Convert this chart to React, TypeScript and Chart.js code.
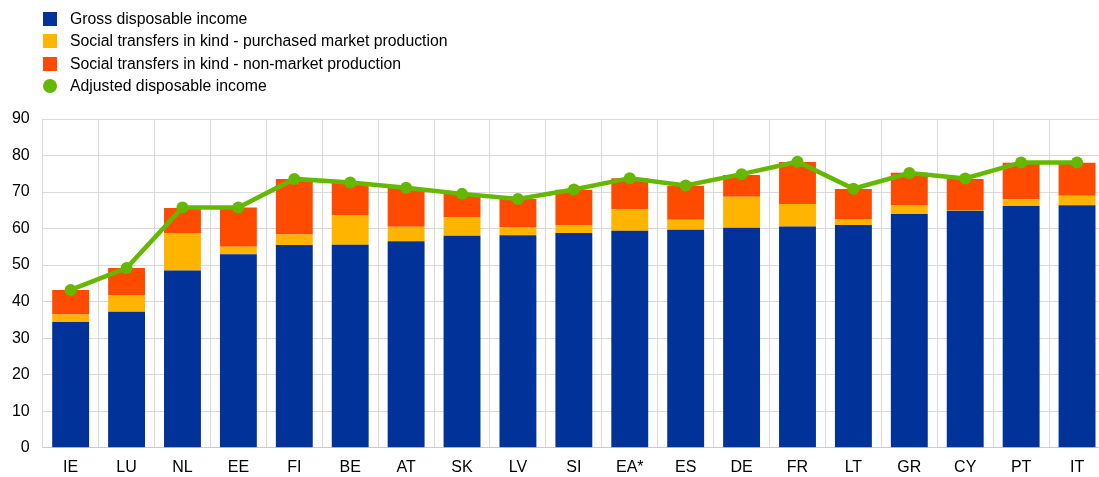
import React, { useEffect, useRef } from "react";
import { Chart, registerables } from "chart.js";

Chart.register(...registerables);

const categories = ["IE", "LU", "NL", "EE", "FI", "BE", "AT", "SK", "LV", "SI", "EA*", "ES", "DE", "FR", "LT", "GR", "CY", "PT", "IT"];
const grossDisposable = [34.4, 37.2, 48.5, 53.0, 55.5, 55.6, 56.5, 58.0, 58.2, 58.8, 59.4, 59.7, 60.2, 60.6, 61.0, 64.0, 64.9, 66.2, 66.4];
const purchasedMarket = [2.1, 4.6, 10.3, 2.0, 2.9, 8.1, 4.0, 5.1, 2.2, 2.1, 5.9, 2.7, 8.5, 6.1, 1.6, 2.3, 0.2, 1.8, 2.6];
const nonMarket = [6.7, 7.4, 6.8, 10.8, 15.2, 8.8, 10.6, 6.4, 7.7, 9.7, 8.5, 9.3, 6.0, 11.5, 8.2, 9.0, 8.5, 10.0, 9.0];
const adjustedDisposable = [43.2, 49.2, 65.8, 65.8, 73.6, 72.6, 71.2, 69.5, 68.1, 70.7, 73.8, 71.8, 74.9, 78.3, 70.9, 75.2, 73.7, 78.1, 78.1];
const yTicks = [0, 10, 20, 30, 40, 50, 60, 70, 80, 90];

const seriesNames = [
  "Gross disposable income",
  "Social transfers in kind - purchased market production",
  "Social transfers in kind - non-market production",
  "Adjusted disposable income",
];
const seriesColors = ["#003299", "#FFB400", "#FF4B00", "#65B800"];

const FONT = "'Liberation Sans', Arial, Helvetica, sans-serif";

export default function App() {
  const ref = useRef<HTMLCanvasElement>(null);
  useEffect(() => {
    if (!ref.current) return;
    const chart = new Chart(ref.current, {
      type: "bar",
      data: {
        labels: categories,
        datasets: [
          {
            type: "line",
            label: seriesNames[3],
            data: adjustedDisposable,
            borderColor: seriesColors[3],
            backgroundColor: seriesColors[3],
            borderWidth: 4.5,
            pointRadius: 6,
            pointBackgroundColor: seriesColors[3],
            pointBorderWidth: 0,
            stack: "line",
            order: 0,
            tension: 0,
          } as any,
          { label: seriesNames[0], data: grossDisposable, backgroundColor: seriesColors[0], stack: "a", order: 1 },
          { label: seriesNames[1], data: purchasedMarket, backgroundColor: seriesColors[1], stack: "a", order: 1 },
          { label: seriesNames[2], data: nonMarket, backgroundColor: seriesColors[2], stack: "a", order: 1 },
        ],
      },
      options: {
        responsive: false,
        animation: false,
        layout: { padding: { top: 119, left: 0, right: 15, bottom: 0 } },
        datasets: { bar: { barPercentage: 0.66, categoryPercentage: 1 } },
        plugins: { legend: { display: false }, tooltip: { enabled: false } },
        scales: {
          x: {
            stacked: true,
            grid: { color: "#d9d9d9", drawTicks: false, offset: true },
            border: { color: "#cccccc" },
            ticks: { padding: 10, color: "#000", font: { family: FONT, size: 16 } },
            afterFit: (s: any) => {
              s.height = 29.3;
            },
          },
          y: {
            stacked: true,
            min: 0,
            max: 90,
            afterBuildTicks: (axis: any) => {
              axis.ticks = yTicks.map((v) => ({ value: v }));
            },
            grid: { color: "#d9d9d9", drawTicks: false },
            border: { color: "#d9d9d9" },
            ticks: { padding: 13, color: "#000", font: { family: FONT, size: 16 } },
            afterFit: (s: any) => {
              s.width = 42.7;
            },
          },
        },
      },
    });
    return () => chart.destroy();
  }, []);

  return (
    <div style={{ position: "fixed", left: 0, top: 0, width: 1099, height: 477, overflow: "hidden", background: "#fff" }}>
      <canvas ref={ref} width={1120} height={477} style={{ position: "absolute", left: 0, top: 0 }} />
      <div style={{ position: "absolute", left: 43, top: 8, fontFamily: FONT, fontSize: 15.8, color: "#000" }}>
        {seriesNames.map((name, i) => (
          <div key={name} style={{ display: "flex", alignItems: "center", height: 22.3 }}>
            <span
              style={{
                width: 14,
                height: 14,
                background: seriesColors[i],
                borderRadius: i === 3 ? "50%" : 0,
                display: "inline-block",
                marginRight: 13,
              }}
            />
            <span>{name}</span>
          </div>
        ))}
      </div>
    </div>
  );
}
